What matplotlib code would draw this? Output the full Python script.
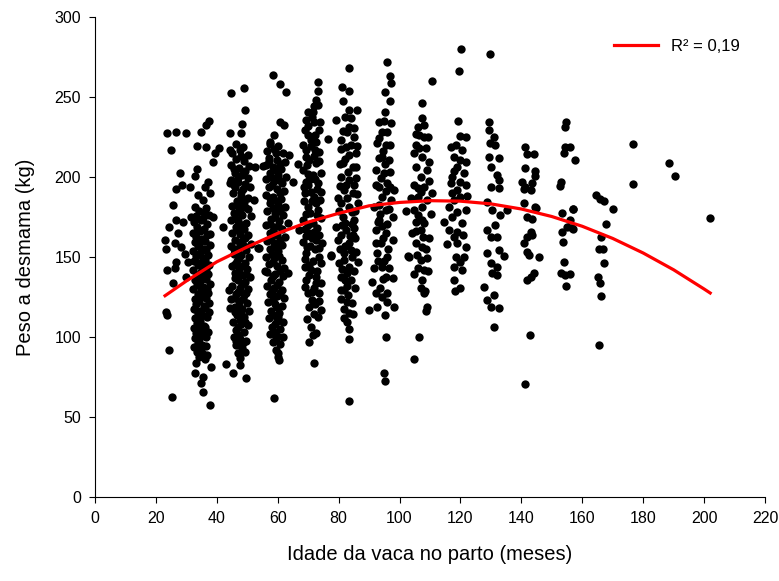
"""
plot.py
Peso a desmama x idade da vaca no parto, com curva quadratica ajustada.
"""

import matplotlib
matplotlib.use("Agg")
import matplotlib.pyplot as plt
import numpy as np

plt.rcParams["font.family"] = ["Liberation Sans", "DejaVu Sans"]

# (idade da vaca em meses, peso a desmama em kg), por grupo de idade
pts_25 = [(23.5, 227.7), (26.7, 227.9), (29.8, 227.3), (25.1, 216.9), (28.0, 202.7),
          (28.6, 195.0), (31.1, 194.0), (26.7, 192.3), (25.6, 182.5), (24.3, 168.6),
          (26.7, 173.0), (27.3, 164.8), (22.9, 160.6), (23.2, 154.8), (26.2, 158.5),
          (28.4, 156.5), (26.5, 147.0), (26.2, 143.0), (23.5, 141.9), (25.6, 133.5),
          (23.2, 115.8), (23.5, 113.8), (24.2, 91.9), (25.4, 62.7), (28.9, 172.0),
          (30.5, 147.0), (30.0, 137.7), (29.6, 152.0)]

pts_35 = [(37.4, 235.2), (36.6, 232.5), (34.9, 228.3), (33.6, 219.6), (36.6, 218.9),
          (40.7, 217.9), (39.3, 215.2), (38.7, 209.6), (33.6, 205.0), (32.9, 200.6),
          (37.1, 197.0), (36.0, 194.0), (37.6, 189.8), (33.8, 188.8), (35.5, 185.6),
          (32.7, 181.4), (36.6, 180.4), (31.6, 175.2), (38.7, 175.2),
          (34.2, 178.6), (36.1, 177.2), (33.1, 175.4), (35.4, 174.1), (37.3, 176.0),
          (32.4, 171.8), (34.8, 172.9), (36.9, 170.5), (33.6, 168.7), (35.9, 167.4),
          (32.2, 165.3), (34.5, 166.1), (37.6, 164.2), (33.3, 162.8), (35.2, 161.5),
          (36.8, 163.7), (32.8, 159.4), (34.3, 158.2), (36.2, 160.1), (33.9, 156.8),
          (35.7, 155.3), (37.9, 157.5), (32.1, 153.6), (34.6, 152.4), (36.5, 154.1),
          (33.2, 150.7), (35.3, 149.6), (37.2, 151.2), (32.6, 147.8), (34.1, 146.3),
          (36.0, 148.4), (33.7, 144.9), (35.8, 143.6), (37.4, 145.2), (32.3, 141.7),
          (34.9, 140.5), (36.6, 142.3), (33.4, 138.8), (35.1, 137.6), (37.0, 139.4),
          (32.9, 135.9), (34.4, 134.7), (36.3, 136.2), (33.5, 132.8), (35.6, 131.5),
          (37.7, 133.4), (32.2, 129.7), (34.7, 128.6), (36.8, 130.3), (33.8, 126.9),
          (35.3, 125.4), (37.1, 127.2), (32.7, 123.8), (34.2, 122.5), (36.4, 124.6),
          (33.3, 120.7), (35.9, 119.4), (37.5, 121.3), (32.5, 117.6), (34.6, 116.3),
          (36.1, 118.2), (33.9, 114.8), (35.2, 113.5), (37.3, 115.4), (32.8, 111.7),
          (34.4, 110.2), (36.7, 112.3), (33.6, 108.6), (35.7, 107.1), (32.4, 105.5),
          (34.9, 104.8), (36.2, 106.3), (33.2, 102.4), (35.5, 101.6), (37.0, 103.1),
          (32.9, 99.5), (34.3, 98.7), (36.5, 100.2), (33.7, 96.4), (35.1, 95.3),
          (32.6, 93.7), (34.8, 92.5), (36.3, 94.1), (33.4, 90.6), (35.6, 89.4),
          (34.1, 87.8), (36.9, 88.6), (38.2, 81.4), (32.7, 77.3), (35.5, 75.2),
          (34.9, 71.0), (35.5, 65.8), (37.6, 57.5), (33.1, 84.0), (36.2, 86.0)]

pts_47 = [(44.5, 252.3), (48.9, 255.4), (49.4, 241.9), (48.3, 233.1), (44.2, 227.7),
          (48.0, 227.3), (44.2, 216.9), (42.0, 169.0), (44.2, 196.0), (43.9, 129.4),
          (44.2, 118.0), (52.4, 206.0), (52.2, 185.6), (53.5, 155.4), (43.1, 83.1),
          (45.3, 77.3), (47.5, 82.5), (49.7, 74.2), (47.5, 86.7),
          (46.2, 220.4), (48.7, 218.6), (45.1, 215.3), (47.5, 216.8), (50.3, 213.9),
          (46.4, 211.2), (48.9, 209.7), (44.8, 207.5), (47.2, 205.8), (50.6, 206.9),
          (45.9, 202.6), (48.3, 201.4), (50.1, 199.2), (44.6, 198.3), (47.0, 197.1),
          (49.4, 195.6), (46.1, 193.8), (48.6, 192.2), (51.0, 193.5), (45.2, 189.7),
          (47.8, 188.4), (50.2, 187.1), (46.5, 185.2), (49.0, 184.3), (44.9, 181.9),
          (47.3, 180.6), (50.4, 179.8), (45.8, 177.3), (48.2, 176.1), (51.2, 175.4),
          (44.7, 173.2), (47.1, 172.5), (49.6, 171.3), (46.3, 168.9), (48.8, 167.6),
          (45.0, 165.1), (47.6, 164.3), (50.3, 163.5), (46.0, 160.8), (48.4, 159.7),
          (51.1, 158.4), (44.8, 156.9), (47.2, 155.6), (49.7, 154.2), (45.7, 152.1),
          (48.1, 151.3), (50.5, 150.1), (46.6, 147.8), (49.1, 146.5), (44.9, 144.3),
          (47.4, 143.2), (50.0, 142.6), (45.9, 139.8), (48.5, 138.7), (51.0, 137.4),
          (46.8, 135.5), (49.3, 134.1), (45.1, 131.6), (47.7, 130.4), (50.2, 129.8),
          (46.2, 127.1), (48.9, 126.3), (44.8, 123.5), (47.3, 122.4), (49.8, 121.1),
          (45.9, 118.7), (48.4, 117.5), (50.6, 116.2), (46.7, 113.9), (49.0, 112.8),
          (45.3, 109.6), (47.8, 108.4), (50.1, 107.3), (46.4, 104.5), (48.8, 103.2),
          (45.5, 99.8), (47.6, 98.6), (49.5, 97.4), (46.3, 94.7), (48.2, 93.1),
          (47.1, 89.9), (49.2, 90.8),
          (47.9, 213.0), (45.6, 205.1), (49.3, 203.6), (46.9, 199.8), (45.5, 195.2),
          (48.0, 190.6), (46.6, 182.8), (49.3, 181.1), (47.7, 177.9), (45.9, 174.6),
          (48.4, 170.2), (46.9, 166.6), (49.4, 161.9), (47.5, 158.3), (45.8, 155.3),
          (48.9, 156.7), (47.3, 149.4), (46.0, 145.9), (48.7, 144.1), (47.2, 140.1),
          (49.7, 139.2), (46.1, 136.7), (48.2, 133.2), (47.0, 128.3), (49.6, 127.8),
          (46.1, 124.6), (48.6, 123.5), (47.2, 119.6), (46.0, 115.9), (48.0, 114.9),
          (47.5, 110.7), (49.4, 109.5), (46.9, 106.5), (47.4, 101.2), (46.2, 97.4),
          (48.6, 96.2)]

pts_59 = [(58.4, 263.8), (60.9, 258.1), (62.8, 253.3), (60.6, 234.6), (62.2, 232.5),
          (57.3, 222.0), (58.9, 226.3), (55.1, 206.9), (66.6, 208.0), (64.9, 197.0),
          (54.0, 155.4), (55.7, 141.4), (63.3, 139.8), (61.6, 100.2), (60.0, 87.7),
          (58.9, 61.7), (60.0, 89.8), (60.3, 85.6), (63.3, 171.0), (63.8, 213.8),
          (57.6, 220.5), (60.2, 219.1), (56.4, 216.3), (58.9, 217.4), (61.7, 214.8),
          (57.2, 212.1), (59.8, 210.6), (62.3, 209.2), (56.1, 207.7), (58.6, 206.3),
          (61.0, 205.1), (57.5, 202.4), (60.1, 201.2), (62.6, 199.8), (56.3, 198.5),
          (58.8, 197.3), (61.4, 196.1), (57.0, 193.6), (59.6, 192.4), (62.1, 191.2),
          (56.2, 188.9), (58.5, 187.6), (61.2, 186.3), (57.4, 183.7), (60.0, 182.5),
          (62.5, 181.3), (56.5, 178.9), (59.1, 177.8), (61.6, 176.4), (57.8, 173.9),
          (60.4, 172.7), (56.2, 170.2), (58.7, 168.8), (61.3, 167.5), (57.3, 164.9),
          (59.9, 163.6), (62.4, 162.3), (56.4, 160.1), (58.9, 158.8), (61.5, 157.4),
          (57.6, 154.9), (60.2, 153.7), (56.3, 150.3), (58.8, 149.1), (61.4, 147.9),
          (57.2, 145.5), (59.7, 144.2), (62.2, 143.1), (56.6, 140.6), (59.0, 139.3),
          (61.6, 138.1), (57.7, 135.6), (60.3, 134.3), (56.4, 131.7), (58.9, 130.4),
          (61.5, 129.2), (57.3, 126.7), (59.8, 125.5), (62.0, 124.3), (56.8, 121.6),
          (59.2, 120.4), (61.4, 119.2), (57.9, 116.5), (60.5, 115.3), (57.1, 111.6),
          (59.6, 110.3), (61.8, 109.2), (58.2, 106.4), (60.7, 105.1), (57.5, 101.8),
          (59.9, 100.6), (58.6, 96.7), (60.8, 95.4), (59.3, 92.1),
          (59.3, 215.3), (57.0, 209.9), (60.9, 208.0), (59.5, 204.3), (57.8, 199.9),
          (60.4, 197.9), (58.2, 194.9), (60.8, 189.9), (57.3, 186.7), (59.6, 185.1),
          (58.3, 180.4), (60.6, 179.0), (59.0, 174.9), (57.4, 170.8), (60.0, 169.5),
          (58.4, 166.0), (60.9, 160.9), (57.9, 161.6), (59.4, 156.3), (58.1, 152.0),
          (60.4, 150.6), (58.5, 146.7), (60.7, 141.3), (58.4, 137.9), (59.8, 132.4),
          (58.1, 128.6), (60.6, 127.4), (58.4, 123.2), (59.9, 118.6), (58.6, 113.8),
          (60.1, 112.7), (59.0, 108.0), (58.9, 103.4), (59.4, 98.5)]

pts_71 = [(73.1, 259.6), (73.1, 253.8), (72.6, 248.1), (73.1, 245.0), (69.8, 240.8),
          (71.5, 240.8), (72.0, 234.6), (68.8, 229.4), (73.7, 229.4), (76.4, 223.8),
          (70.9, 223.1), (72.6, 222.0), (69.3, 216.9), (73.7, 215.8), (70.4, 210.6),
          (72.6, 208.5), (68.2, 204.4), (74.2, 202.3), (70.4, 198.1), (73.1, 196.0),
          (68.8, 189.8), (72.0, 187.7), (74.2, 190.8), (69.8, 181.4), (73.1, 179.4),
          (68.2, 173.1), (71.5, 171.0), (74.2, 174.2), (67.1, 166.9), (70.4, 164.8),
          (72.6, 160.6), (74.7, 158.5), (68.2, 159.6), (77.5, 150.6), (69.3, 152.3),
          (73.7, 150.2), (68.8, 143.9), (70.9, 141.9), (74.2, 146.0), (69.3, 135.6),
          (72.6, 133.5), (69.8, 127.3), (73.7, 127.3), (70.4, 119.0), (74.2, 116.9),
          (73.1, 112.7), (70.9, 106.4), (71.5, 101.2), (70.4, 97.1), (72.6, 102.3),
          (72.0, 84.0), (71.2, 237.5), (70.1, 231.8), (72.3, 226.4), (71.0, 219.3),
          (71.8, 213.2), (69.5, 207.4), (71.6, 201.1), (70.0, 194.7), (72.8, 192.3),
          (71.1, 185.3), (70.6, 177.6), (72.7, 183.9), (69.9, 169.8), (73.0, 168.2),
          (71.3, 162.1), (70.5, 156.9), (72.2, 154.8), (71.7, 147.8), (70.2, 138.9),
          (71.9, 130.6), (71.3, 123.4), (72.4, 120.9), (71.8, 114.3), (69.6, 111.5),
          (71.9, 244.1), (69.4, 235.9), (73.8, 234.4), (69.9, 226.0), (68.4, 220.1),
          (72.2, 216.6), (69.4, 212.4), (73.6, 210.2), (70.0, 202.1), (72.4, 199.0),
          (69.2, 197.1), (68.5, 193.9), (71.0, 190.4), (74.0, 185.4), (68.7, 185.1),
          (69.3, 177.1), (72.8, 176.2), (68.9, 167.6), (71.9, 165.9), (69.2, 163.1),
          (73.5, 163.6), (69.6, 156.2), (73.6, 155.7), (68.8, 148.8), (70.2, 145.3),
          (73.0, 141.5), (72.7, 137.3), (68.9, 131.1), (74.2, 133.8), (71.1, 127.9),
          (73.4, 122.4)]

pts_83 = [(83.5, 268.0), (81.1, 256.5), (83.5, 254.0), (79.1, 235.6), (83.3, 241.9),
          (85.9, 241.9), (84.0, 236.7), (83.5, 231.5), (85.1, 225.2), (80.8, 223.1),
          (82.4, 218.9), (83.5, 213.8), (85.7, 214.8), (81.3, 208.5), (84.6, 206.4),
          (80.8, 200.2), (83.5, 198.1), (85.7, 199.2), (81.8, 191.9), (84.6, 189.8),
          (80.8, 183.5), (83.5, 181.4), (86.2, 183.5), (81.3, 175.2), (85.1, 173.1),
          (79.1, 168.9), (82.4, 166.9), (85.1, 167.9), (79.7, 160.6), (83.5, 158.5),
          (81.8, 152.3), (85.7, 153.3), (80.2, 146.0), (83.5, 143.9), (86.2, 147.0),
          (80.8, 137.7), (84.0, 135.6), (81.8, 129.4), (80.8, 123.6), (84.4, 121.5),
          (83.5, 114.8), (82.9, 109.6), (83.5, 104.8), (83.5, 98.6), (77.5, 151.3),
          (83.5, 60.2), (82.6, 228.4), (84.2, 219.7), (82.0, 211.5), (83.1, 203.3),
          (82.5, 195.2), (82.9, 186.6), (84.3, 178.0), (82.1, 171.4), (83.7, 163.2),
          (82.2, 156.8), (84.5, 150.1), (82.6, 140.2), (82.9, 132.1), (83.0, 126.1),
          (81.9, 117.2), (85.4, 161.9),
          (81.5, 247.2), (82.2, 237.6), (81.5, 228.9), (84.9, 230.7), (80.9, 217.3),
          (85.9, 219.6), (80.4, 208.0), (85.8, 206.5), (80.5, 194.6), (84.9, 194.9),
          (86.1, 189.3), (79.9, 186.6), (85.3, 178.5), (80.2, 178.7), (81.2, 170.3),
          (84.4, 170.7), (80.8, 163.6), (84.7, 163.7), (80.3, 155.1), (84.2, 154.2),
          (81.7, 147.9), (85.2, 141.5), (81.2, 142.3), (82.0, 135.6), (85.3, 130.6),
          (80.9, 129.6), (82.6, 121.6), (84.8, 114.3), (81.8, 111.8)]

pts_95 = [(96.0, 272.0), (96.8, 263.3), (97.1, 258.6), (95.3, 253.3), (96.8, 247.7),
          (95.3, 240.8), (93.3, 234.6), (97.1, 233.5), (94.4, 228.3), (96.0, 228.3),
          (92.7, 221.0), (95.5, 220.0), (94.4, 212.7), (96.6, 210.6), (92.2, 204.4),
          (94.9, 202.3), (96.0, 196.0), (98.2, 191.9), (92.2, 195.0), (94.4, 187.7),
          (97.1, 185.6), (91.7, 181.4), (95.5, 179.4), (93.3, 173.1), (97.7, 175.2),
          (92.2, 166.9), (95.5, 164.8), (93.8, 158.5), (97.7, 160.6), (92.7, 152.3),
          (96.0, 150.2), (94.4, 143.9), (91.7, 142.9), (95.5, 137.7), (97.7, 136.7),
          (91.1, 134.6), (96.0, 127.3), (98.2, 119.0), (90.0, 116.9), (92.7, 119.0),
          (96.0, 122.0), (95.5, 100.2), (94.9, 77.3), (95.3, 72.7), (94.7, 216.4),
          (95.1, 207.9), (93.9, 199.2), (95.6, 191.3), (94.1, 169.6), (96.3, 155.2),
          (94.8, 147.4), (93.6, 130.8), (94.3, 124.9), (95.8, 170.9), (93.4, 182.4),
          (95.0, 235.0), (93.4, 224.5), (96.9, 219.8), (93.3, 212.1), (97.0, 203.2),
          (93.2, 193.5), (96.8, 193.8), (93.5, 177.1), (96.6, 179.8), (92.8, 171.6),
          (94.6, 162.1), (92.4, 158.6), (96.4, 143.2), (93.0, 147.4), (94.5, 136.3),
          (92.3, 127.6), (95.1, 113.8)]

pts_107 = [(110.6, 260.2), (107.3, 246.5), (107.3, 236.7), (105.9, 231.5), (108.0, 232.5),
           (108.0, 224.8), (105.3, 220.0), (108.6, 217.9), (104.8, 214.8), (107.5, 212.7),
           (109.7, 209.6), (105.3, 206.4), (109.1, 204.4), (106.9, 200.2), (104.8, 195.0),
           (108.0, 194.0), (110.8, 189.8), (105.9, 187.7), (109.1, 185.6), (104.8, 179.4),
           (107.5, 181.4), (110.2, 176.9), (105.3, 172.0), (108.0, 171.0), (104.2, 164.8),
           (106.9, 166.9), (109.7, 161.7), (105.3, 158.5), (107.5, 156.5), (103.1, 150.2),
           (106.9, 148.0), (109.1, 149.2), (108.0, 141.9), (107.5, 135.6), (106.9, 130.4),
           (109.1, 119.0), (108.6, 116.5), (106.4, 100.2), (104.8, 86.0), (102.0, 179.0),
           (102.9, 150.6), (106.5, 226.1), (107.0, 190.5), (106.2, 176.3), (107.8, 162.4),
           (106.0, 143.1), (107.9, 127.2),
           (105.5, 226.6), (109.4, 225.1), (106.3, 218.1), (109.7, 197.2), (106.1, 193.2),
           (103.9, 186.7), (107.4, 173.4), (105.4, 166.2), (108.8, 155.3), (105.8, 151.5),
           (109.5, 141.4), (104.9, 139.1), (108.4, 128.6)]

pts_119 = [(120.3, 280.0), (119.5, 266.4), (119.2, 235.0), (120.0, 225.6), (121.7, 224.8),
           (117.0, 218.5), (120.6, 216.9), (117.9, 212.7), (120.0, 210.6), (119.0, 206.4),
           (121.1, 202.3), (117.3, 200.2), (120.0, 197.0), (121.7, 195.0), (116.8, 196.0),
           (119.0, 191.9), (120.0, 187.7), (117.9, 185.6), (116.2, 181.4), (121.7, 179.4),
           (119.0, 178.3), (114.6, 172.0), (117.3, 175.2), (120.6, 171.0), (116.2, 166.9),
           (119.0, 165.8), (117.9, 162.7), (121.7, 156.5), (119.0, 158.5), (118.4, 150.2),
           (120.0, 147.0), (117.9, 143.9), (120.6, 141.9), (117.9, 135.6), (120.0, 130.4),
           (118.2, 128.8), (118.4, 220.3), (121.9, 209.4), (118.0, 203.5), (122.3, 188.2),
           (117.1, 190.1), (120.9, 163.9), (115.6, 158.4), (121.3, 149.8)]

pts_131 = [(129.6, 276.9), (129.5, 234.6), (129.5, 229.4), (131.0, 225.2), (129.6, 221.0),
           (131.5, 220.0), (129.3, 212.7), (132.6, 211.7), (129.9, 206.4), (132.0, 201.2),
           (129.9, 194.0), (132.6, 198.0), (132.6, 192.9), (128.8, 184.6), (130.4, 179.4),
           (135.3, 179.4), (133.1, 176.3), (131.5, 170.0), (128.8, 166.9), (129.9, 162.7),
           (132.0, 162.7), (132.6, 154.4), (134.2, 150.6), (128.8, 152.7), (129.9, 146.0),
           (132.0, 143.9), (130.4, 139.8), (132.0, 138.8), (127.7, 131.4), (131.0, 126.3),
           (128.8, 123.1), (129.9, 119.0), (132.6, 117.9), (131.0, 106.4)]

pts_143 = [(141.3, 218.9), (141.9, 214.4), (144.0, 214.4), (141.3, 205.8), (144.6, 203.9),
           (144.6, 200.6), (140.2, 197.0), (141.3, 193.9), (143.5, 196.0), (140.8, 192.3),
           (143.0, 191.9), (140.8, 183.5), (144.6, 181.4), (144.7, 180.4), (141.9, 174.8),
           (143.5, 173.5), (143.0, 165.8), (143.5, 163.8), (141.9, 162.7), (140.8, 159.0),
           (141.9, 153.3), (142.6, 151.3), (145.7, 150.2), (144.0, 140.2), (143.0, 137.7),
           (141.9, 135.6), (142.7, 101.0), (141.3, 70.6)]

pts_155 = [(154.7, 234.6), (154.4, 231.5), (154.2, 219.0), (156.0, 219.0), (153.9, 215.2),
           (157.7, 210.6), (153.0, 197.0), (152.8, 194.4), (153.3, 177.3), (156.9, 179.8),
           (156.0, 173.1), (155.0, 168.9), (156.6, 167.9), (153.3, 165.8), (153.6, 159.6),
           (153.9, 147.0), (153.0, 139.8), (154.4, 138.8), (156.0, 139.4), (154.7, 131.9),
           (157.0, 180.0), (157.0, 167.5)]

pts_167 = [(164.6, 188.8), (165.9, 186.0), (167.0, 185.2), (170.0, 180.0), (167.7, 170.6),
           (166.1, 162.3), (165.6, 155.0), (166.7, 154.8), (167.0, 146.0), (165.0, 137.3),
           (165.9, 134.0), (166.1, 125.6), (165.6, 95.0)]

pts_180 = [(176.7, 220.6), (176.7, 195.4), (188.5, 209.0), (190.3, 200.4), (201.8, 174.2)]

# curva quadratica ajustada
curve_age = [23, 30, 40, 50, 60, 70, 80, 90, 100, 110, 120, 130, 140, 150, 160, 170,
             180, 190, 200, 202]
curve_w = [125.8, 135.0, 147.0, 156.3, 164.8, 171.8, 177.3, 182.0, 184.1, 185.2, 184.9,
           183.2, 180.0, 175.3, 169.2, 161.6, 152.5, 142.0, 130.0, 127.5]

r2_label = "R² = 0,19"
x_ticks = list(range(0, 221, 20))
y_ticks = list(range(0, 301, 50))


def main():
    groups = [pts_25, pts_35, pts_47, pts_59, pts_71, pts_83, pts_95, pts_107,
              pts_119, pts_131, pts_143, pts_155, pts_167, pts_180]
    pts = np.array([p for g in groups for p in g])

    fig = plt.figure(figsize=(7.79, 5.81), dpi=100)
    ax = fig.add_axes([95 / 779, 84 / 581, 670 / 779, 480 / 581])

    ax.scatter(pts[:, 0], pts[:, 1], s=36, c="black", linewidths=0, zorder=2)
    ax.plot(curve_age, curve_w, color="#ff0000", lw=2.3, zorder=3, label=r2_label)

    ax.set_xlim(0, 220)
    ax.set_ylim(0, 300)
    ax.set_xticks(x_ticks)
    ax.set_yticks(y_ticks)
    for s in ("top", "right"):
        ax.spines[s].set_visible(False)
    for s in ("left", "bottom"):
        ax.spines[s].set_linewidth(0.8)
    ax.tick_params(direction="out", length=4, width=0.8, labelsize=11.5, pad=6)

    ax.set_xlabel("Idade da vaca no parto (meses)", fontsize=14.5, labelpad=14)
    ax.set_ylabel("Peso a desmama (kg)", fontsize=14.5, labelpad=14)

    ax.legend(loc="upper right", bbox_to_anchor=(0.985, 0.985), frameon=False,
              fontsize=12, handlelength=2.6, handletextpad=0.8)

    fig.savefig("out.png", dpi=100)
    plt.close(fig)


if __name__ == "__main__":
    main()
